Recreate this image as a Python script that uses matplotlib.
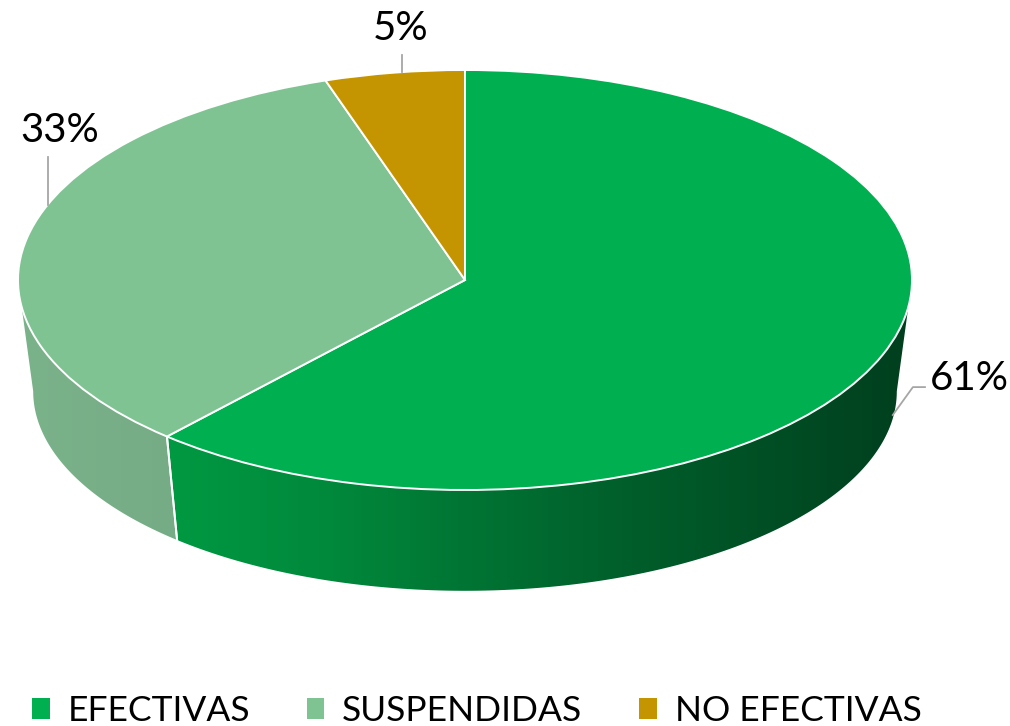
import numpy as np
import matplotlib.pyplot as plt
from matplotlib.patches import Patch, Polygon
from matplotlib.colors import LinearSegmentedColormap

categorias = ['EFECTIVAS', 'SUSPENDIDAS', 'NO EFECTIVAS']
valores = [61, 33, 5]
etiquetas = ['61%', '33%', '5%']
colores = ['#00B050', '#7FC393', '#C49500']
# degradado de la pared lateral (izquierda -> derecha)
colores_pared = [['#00A848', '#008A3C', '#00602B', '#003F1E'],
                 ['#7AB28A', '#72A681', '#6A9A77', '#66946F'],
                 ['#A67E00', '#8A6900', '#6E5300', '#5A4400']]

plt.rcParams['font.family'] = ['Lato', 'DejaVu Sans']

fig = plt.figure(figsize=(10.10, 7.26), dpi=100)
# unidad x = 447 px, unidad y = 210 px, centro de la tapa en (465, 280)
ax = fig.add_axes([18 / 1010, 1 - 616 / 726, 894 / 1010, 546 / 726])

wedges, _ = ax.pie(valores, colors=colores, startangle=90, counterclock=False,
                   wedgeprops=dict(edgecolor='white', linewidth=1.4))
for w in wedges:
    w.set_zorder(5)
ax.set_aspect('auto')
ax.axis('off')

# pared lateral
prof, rxb, ryb = 0.53, 0.966, 0.95
for i, w in enumerate(wedges):
    t1, t2 = w.theta1, w.theta2
    for s in (-720, -360, 0, 360):
        a = max(t1 + s, -180)
        b = min(t2 + s, 0)
        if b <= a:
            continue
        t = np.radians(np.linspace(a, b, 200))
        arriba = np.column_stack([np.cos(t), np.sin(t)])
        abajo = np.column_stack([rxb * np.cos(t), -prof + ryb * np.sin(t)])
        pts = np.vstack([arriba, abajo[::-1]])
        poly = Polygon(pts, closed=True, facecolor='none', edgecolor='none')
        ax.add_patch(poly)
        cmap = LinearSegmentedColormap.from_list('p%d' % i, colores_pared[i])
        grad = np.linspace(0, 1, 256).reshape(1, -1)
        im = ax.imshow(grad, cmap=cmap, extent=(-1, 1, -1.6, 0.1),
                       aspect='auto', zorder=2, interpolation='bilinear')
        im.set_clip_path(poly)
        # bordes de la pared
        for ang in (a, b):
            if -180 < ang < 0:
                r = np.radians(ang)
                ax.plot([np.cos(r), rxb * np.cos(r)],
                        [np.sin(r), -prof + ryb * np.sin(r)],
                        color='white', lw=1.4, zorder=3)
ax.set_xlim(-1, 1)
ax.set_ylim(-1.6, 1)

# etiquetas de datos
ax.text(1.04, -0.467, etiquetas[0], fontsize=29, ha='left', va='center')
ax.plot([1.029, 1.002, 0.957], [-0.51, -0.51, -0.643], color='#A6A6A6',
        lw=1.3, zorder=6, clip_on=False)
ax.text(-0.906, 0.714, etiquetas[1], fontsize=29, ha='center', va='center')
ax.plot([-0.933, -0.933], [0.586, 0.357], color='#A6A6A6', lw=1.3, zorder=6)
ax.text(-0.145, 1.2, etiquetas[2], fontsize=29, ha='center', va='center',
        clip_on=False)
ax.plot([-0.141, -0.141], [1.071, 0.99], color='#A6A6A6', lw=1.3, zorder=6,
        clip_on=False)

handles = [Patch(facecolor=c, edgecolor='none') for c in colores]
fig.legend(handles, categorias, loc='lower center', ncol=3, frameon=False,
           bbox_to_anchor=(0.472, -0.045), fontsize=25.5, handlelength=0.5,
           handleheight=0.55, handletextpad=0.5, columnspacing=1.6)

fig.savefig('out.png', dpi=100)
